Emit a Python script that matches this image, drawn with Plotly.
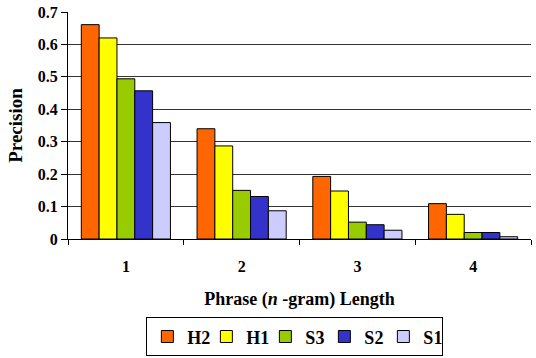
import plotly.graph_objects as go

categories = ["1", "2", "3", "4"]
series_names = ["H2", "H1", "S3", "S2", "S1"]
H2 = [0.661, 0.340, 0.193, 0.109]
H1 = [0.620, 0.287, 0.148, 0.076]
S3 = [0.494, 0.150, 0.052, 0.020]
S2 = [0.457, 0.131, 0.044, 0.020]
S1 = [0.359, 0.087, 0.027, 0.007]
colors = ["#FF6600", "#FFFF00", "#99CC00", "#3333CC", "#CCCCFF"]
y_ticks = [0, 0.1, 0.2, 0.3, 0.4, 0.5, 0.6, 0.7]
y_tick_labels = ["0", "0.1", "0.2", "0.3", "0.4", "0.5", "0.6", "0.7"]

FONT = "Liberation Serif"
fig = go.Figure()
for name, vals, col in zip(series_names, [H2, H1, S3, S2, S1], colors):
    fig.add_trace(go.Bar(name=name, x=categories, y=vals,
                         marker=dict(color=col, line=dict(color="#000000", width=1))))

fig.update_layout(
    width=536, height=358,
    margin=dict(l=68, r=5, t=12, b=119, autoexpand=False),
    plot_bgcolor="white", paper_bgcolor="white",
    barmode="group", bargap=0.23, bargroupgap=0,
    font=dict(family=FONT, color="black"),
    legend=dict(orientation="h", x=0.49, xanchor="center", y=-0.345, yanchor="top",
                bordercolor="black", borderwidth=1,
                font=dict(family=FONT, size=18, color="black", weight="bold"),
                itemwidth=30, entrywidth=14, tracegroupgap=0),
    xaxis=dict(type="category", tickson="boundaries", ticks="outside", ticklen=5,
               tickcolor="black", showline=True, linecolor="black", linewidth=1,
               automargin=False, ticklabelstandoff=13,
               tickfont=dict(family=FONT, size=16, weight="bold"),
               title=dict(text="Phrase (<i>n</i> -gram) Length", standoff=18,
                          font=dict(family=FONT, size=18, weight="bold"))),
    yaxis=dict(range=[0, 0.7], tickvals=y_ticks, ticktext=y_tick_labels,
               ticks="outside", ticklen=6, tickcolor="black",
               showline=True, linecolor="black", linewidth=1, automargin=False,
               showgrid=True, gridcolor="#333333", gridwidth=1, zeroline=False,
               tickfont=dict(family=FONT, size=16, weight="bold"),
               title=dict(text="Precision", standoff=10,
                          font=dict(family=FONT, size=19, weight="bold"))),
)
fig.write_html("out.html", config={"displayModeBar": False},
               post_script="document.body.style.margin='0';")
